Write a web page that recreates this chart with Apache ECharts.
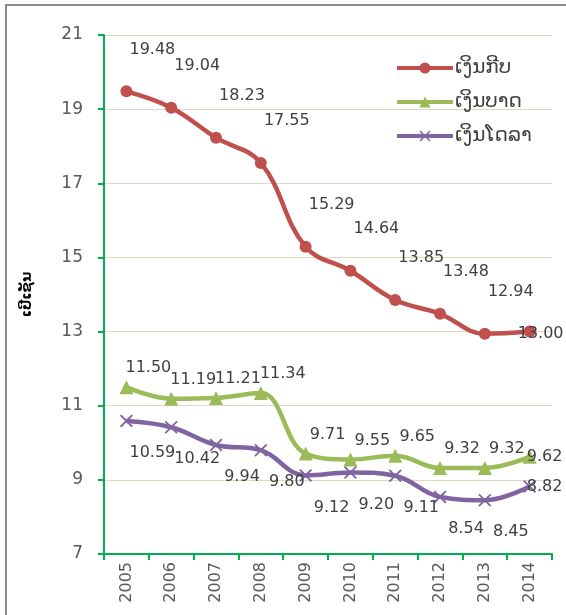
<!DOCTYPE html>
<html>
<head>
<meta charset="utf-8">
<script src="https://cdn.jsdelivr.net/npm/echarts@6/dist/echarts.min.js"></script>
<style>
  html, body { margin: 0; padding: 0; background: #fff; }
  #main { width: 566px; height: 615px; }
</style>
</head>
<body>
<div id="main"></div>
<script>
// 数据
const years = ['2005', '2006', '2007', '2008', '2009', '2010', '2011', '2012', '2013', '2014']
const kip = [19.48, 19.04, 18.23, 17.55, 15.29, 14.64, 13.85, 13.48, 12.94, 13.00]
const baht = [11.50, 11.19, 11.21, 11.34, 9.71, 9.55, 9.65, 9.32, 9.32, 9.62]
const dollar = [10.59, 10.42, 9.94, 9.80, 9.12, 9.20, 9.11, 8.54, 8.45, 8.82]
const seriesNames = ['ເງິນກີບ', 'ເງິນບາດ', 'ເງິນໂດລາ']
const yName = 'ເປີເຊັນ'

const font = 'DejaVu Sans'
const crossPath = 'path://M0,1L1,0L5,4L9,0L10,1L6,5L10,9L9,10L5,6L1,10L0,9L4,5Z'

// 最后一个点的标签放在右边
function withLabels (values, lastOffset) {
  return values.map((v, i) => i === values.length - 1
    ? { value: v, label: { offset: lastOffset } }
    : v)
}

function lineSeries (name, values, color, symbol, size, offset, lastOffset) {
  return {
    name: name,
    type: 'line',
    smooth: 0.4,
    data: withLabels(values, lastOffset),
    symbol: symbol,
    symbolSize: size,
    lineStyle: { color: color, width: 4.5 },
    itemStyle: { color: color },
    label: {
      show: true,
      position: 'inside',
      offset: offset,
      formatter: p => p.value.toFixed(2),
      color: '#404040',
      fontSize: 16,
      fontFamily: font
    },
    z: 3
  }
}

const myChart = echarts.init(document.getElementById('main'))

const option = {
  backgroundColor: '#fff',
  animation: false,
  textStyle: { fontFamily: font },
  graphic: [{
    type: 'rect',
    shape: { x: 6, y: 5, width: 580, height: 640 },
    style: { fill: 'none', stroke: '#8c8c8c', lineWidth: 2 },
    silent: true
  }],
  legend: {
    data: seriesNames,
    orient: 'vertical',
    left: 390,
    top: 53,
    itemWidth: 56,
    itemHeight: 14,
    itemGap: 14,
    lineStyle: { width: 4 },
    textStyle: { fontSize: 20, color: '#404040', fontFamily: font, padding: [0, 0, 0, -3] }
  },
  grid: {
    left: 104,
    right: 14,
    top: 35,
    bottom: 61
  },
  xAxis: {
    type: 'category',
    data: years,
    boundaryGap: true,
    axisLine: { lineStyle: { color: '#00B050', width: 2 } },
    axisTick: { show: true, length: 6, alignWithLabel: false, lineStyle: { color: '#00B050', width: 2 } },
    axisLabel: {
      rotate: 90,
      fontSize: 16,
      color: '#595959',
      margin: 8,
      fontFamily: font
    }
  },
  yAxis: {
    type: 'value',
    min: 7,
    max: 21,
    interval: 2,
    name: yName,
    nameLocation: 'middle',
    nameGap: 70,
    nameTextStyle: { fontSize: 14, fontWeight: 'bold', color: '#000', fontFamily: font },
    axisLine: { show: true, lineStyle: { color: '#00B050', width: 2 } },
    axisTick: { show: true, length: 6, lineStyle: { color: '#00B050', width: 2 } },
    axisLabel: { fontSize: 17, color: '#595959', margin: 21, fontFamily: font },
    splitLine: { lineStyle: { color: '#DDD9C3', width: 1 } }
  },
  series: [
    lineSeries(seriesNames[0], kip, '#C0504D', 'circle', 12, [26, -42], [11, 2]),
    lineSeries(seriesNames[1], baht, '#9BBB59', 'triangle', 14, [22, -19], [15, 0]),
    lineSeries(seriesNames[2], dollar, '#8064A2', crossPath, 13, [26, 32], [15, 0])
  ]
}

myChart.setOption(option)
</script>
</body>
</html>
